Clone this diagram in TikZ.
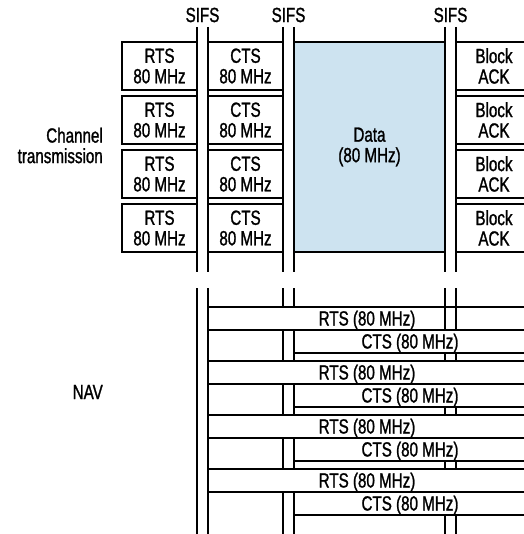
\documentclass[tikz,border=0pt]{standalone}
\usepackage{fontspec}
\setmainfont{Liberation Sans}[FakeStretch=0.74, FakeBold=1.2]
\usetikzlibrary{positioning}

\definecolor{datablue}{RGB}{205,227,240}

\begin{document}
\begin{tikzpicture}[
  x=1pt, y=-1pt,
  font=\fontsize{20.5}{20.5}\selectfont,
  wire/.style={draw=black, line width=1.5pt},
  frame/.style={draw=black, line width=1.5pt, fill=white, align=center, inner sep=0pt},
  slot/.style={frame, minimum width=75pt, minimum height=48pt},
  navbar/.style={frame, minimum height=23pt, text height=14pt, text depth=0pt},
  lbl/.style={inner sep=0pt, align=right, anchor=east}
]
  \useasboundingbox (0,0) rectangle (523,534);

  % --- SIFS ---
  \node (sifs1) at (202.5,15) {SIFS};
  \node (sifs2) at (288.5,15) {SIFS};
  \node (sifs3) at (450.5,15) {SIFS};

  % --- Channel transmission ---
  \foreach \x in {197,208,283,294,445,456}
    \draw[wire] (\x,27) -- (\x,272);

  \foreach \i in {1,...,4} {
    \node[slot] (rts\i) at (159.5,{66+54*(\i-1)}) {RTS\\80 MHz};
    \node[slot] (cts\i) at (245.5,{66+54*(\i-1)}) {CTS\\80 MHz};
    \node[slot, minimum width=76pt] (ack\i) at (494,{66+54*(\i-1)}) {Block\\ACK};
  }
  \node[frame, fill=datablue, minimum width=151pt, minimum height=210pt] (data) at (369.5,147) {Data\\(80 MHz)};

  \node[lbl] (chan) at (103,145.5) {Channel\\transmission};

  % --- NAV ---
  \foreach \x in {197,208,283,294,445,456}
    \draw[wire] (\x,288) -- (\x,534);

  \foreach \i in {1,...,4}
    \node[navbar, minimum width=318pt] (navrts\i) at (367,{318.5+54*(\i-1)}) {RTS (80 MHz)};
  \foreach \x in {445,456}
    \draw[wire] (\x,288) -- (\x,330);
  \foreach \i in {1,...,4}
    \node[navbar, minimum width=232pt] (navcts\i) at (410,{341.5+54*(\i-1)}) {CTS (80 MHz)};

  \node[lbl] (nav) at (103,392) {NAV};

\end{tikzpicture}
\end{document}
